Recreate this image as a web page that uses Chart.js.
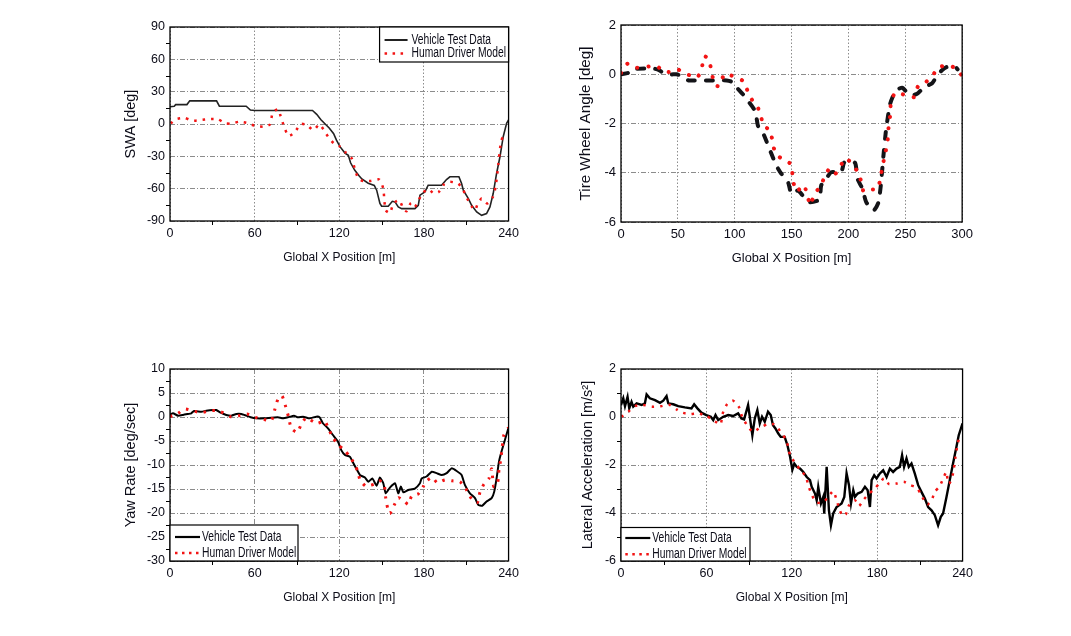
<!DOCTYPE html>
<html><head><meta charset="utf-8">
<script src="https://cdn.jsdelivr.net/npm/chart.js@4.4.1/dist/chart.umd.min.js"></script>
<style>
html,body{margin:0;padding:0;background:#fff;width:1071px;height:636px;overflow:hidden;position:relative}
canvas{position:absolute}
</style></head><body>
<canvas id="c1"></canvas><canvas id="c2"></canvas><canvas id="c3"></canvas><canvas id="c4"></canvas>
<script>
// ---------------- data ----------------
const seriesLabels = ['Vehicle Test Data', 'Human Driver Model'];

const swaTest = [[0,16],[3,16.5],[4,18],[12,18],[14,21.5],[33,21.5],[35,16.5],[54,16.5],[57,13],[60,12.5],[101,12.5],[104,9],[107,4],[110,0],[113,-4],[116,-9],[118,-15],[120.5,-21],[124,-27],[126.4,-29],[128,-36],[131,-43],[134,-48],[136,-51],[140.5,-55],[144.8,-57],[146.5,-61.4],[148.8,-73.8],[150,-76.3],[154.7,-76.3],[157.6,-71.7],[159.5,-72.3],[161.8,-77],[164.2,-78.5],[173.6,-78.5],[176,-75.4],[177.2,-66],[180.7,-63],[183,-56.8],[192.5,-56.8],[196,-51.5],[198.4,-49],[204.8,-49],[206.7,-55.2],[207.9,-61.4],[211.5,-69.2],[213.8,-75.4],[217.4,-81.6],[220.9,-84.7],[224.4,-83.1],[226.8,-77],[229.1,-64.5],[231.5,-45.9],[233.9,-30.4],[236.2,-11.8],[238.6,0.6],[240,3.7]];
const swaModel = [[0.5,0.6],[4.5,4.6],[10.4,5.6],[15.8,3.1],[21.5,3.7],[27.9,4.6],[34,4.4],[39.2,0.6],[43.5,0.3],[48.9,2.1],[54.8,0.9],[60.7,-1.9],[66.6,-2.5],[70.9,-0.3],[72.8,10.5],[76.5,13.7],[78.4,7.4],[81,-3],[84.1,-11.2],[88.6,-7.4],[92.6,0],[96.9,-0.9],[101.6,-5.6],[106,-0.3],[109,-5.6],[112.4,-12.4],[116.2,-18],[120.5,-21],[124.7,-26.7],[128.8,-31.9],[131.1,-42.2],[133.5,-50.6],[137,-53],[142.2,-52.8],[148.3,-51.5],[151.2,-59.9],[151.9,-70.1],[152.9,-80],[156,-82.6],[158.3,-73.8],[162.5,-70.7],[165.4,-78.5],[167.7,-81],[170.8,-73.3],[173.6,-77],[178.8,-64.5],[183,-60.5],[187.1,-64.5],[190.6,-63],[194.2,-56.1],[198.4,-53.7],[204.3,-55.2],[207.9,-61.4],[210.7,-69.2],[213.8,-76.3],[216.2,-80],[218,-74.5],[220.9,-69.2],[224.9,-73.8],[228.7,-68.2],[230.8,-58.4],[232.7,-38.2],[234.6,-16.5],[236.2,-11.8],[239,-11.2]];

const twaTest = [[0,0],[6,0.05],[9,0.2],[24,0.24],[30,0.22],[34,0.15],[40,-0.03],[46,0],[49,0],[52,-0.05],[56,-0.2],[60,-0.25],[75,-0.25],[84,-0.25],[93,-0.25],[97,-0.3],[101,-0.5],[107,-0.8],[112,-1.1],[118,-1.5],[120.5,-2.1],[125,-2.4],[129,-2.85],[132,-3.2],[136.5,-3.7],[141,-4.04],[145,-4.2],[147.4,-4.45],[149.7,-4.86],[152,-4.8],[155.5,-4.72],[159.9,-4.93],[163,-5.1],[166.6,-5.2],[174.5,-5.09],[176,-4.52],[180.4,-4.25],[184.8,-3.98],[193.5,-3.98],[196,-3.6],[197.9,-3.54],[205.8,-3.6],[208,-4.25],[212.4,-4.66],[215.4,-5.17],[220.3,-5.5],[223,-5.5],[226.4,-5.2],[228.5,-4.5],[230.8,-3.3],[233.2,-2.2],[236.7,-1.2],[240.2,-0.79],[244,-0.6],[247.5,-0.55],[252.5,-0.79],[256,-0.85],[260.6,-0.79],[266.5,-0.52],[270,-0.45],[273.7,-0.36],[278.1,-0.05],[282,0.15],[286.3,0.29],[293.3,0.33],[296,0.2]];
const twaModel = [[0,0.05],[5.8,0.43],[13.4,0.27],[31.2,0.33],[38.5,0.09],[46.7,0.12],[49.6,0.2],[57.5,0.02],[66.2,-0.14],[70.6,0.12],[72.9,0.73],[77,0.63],[79.9,0.05],[82.3,-0.43],[86.1,-0.48],[91,0],[96.8,-0.05],[103.3,-0.18],[108,-0.29],[111.5,-0.7],[115.8,-1.09],[120.8,-1.4],[122.6,-1.6],[125.2,-2.08],[131,-2.28],[133.4,-2.76],[135.7,-3.2],[142.1,-3.46],[149.7,-3.66],[150.9,-4.18],[153.2,-4.7],[155,-4.75],[160.8,-4.5],[163.7,-4.9],[166.6,-5.31],[170.1,-4.86],[175.4,-4.55],[178.9,-4.18],[183.3,-3.84],[188.2,-4.05],[192.9,-3.73],[197.9,-3.41],[208,-3.95],[211.6,-4.41],[213.3,-4.76],[219.2,-4.68],[225.6,-4.66],[228,-4.25],[230,-3.73],[232,-3.3],[234.4,-2.73],[235.2,-2.2],[236.7,-1.67],[237.3,-1.2],[241.2,-0.75],[252.7,-0.89],[257.7,-0.93],[261.2,-0.49],[268,-0.32],[274.3,-0.04],[278.7,0.27],[288.3,0.36],[295.6,0.2],[300,-0.07]];

const yawTest = [[0,0.5],[2.1,0.77],[5.7,0.28],[9.2,0.42],[12.8,0.63],[15.1,0.77],[17,1.25],[22.2,1.1],[25.7,1.3],[30.5,1.46],[32.8,1.46],[35.9,0.9],[39.9,0.42],[43.5,0.28],[47,0.63],[50.6,0.63],[54.1,0.28],[57.2,-0.07],[61.2,-0.28],[67.1,-0.28],[71.8,-0.14],[76.5,-0.07],[80.1,-0.28],[83.6,-0.07],[87.9,0.28],[90.7,-0.07],[94.3,0.07],[99,-0.28],[103.7,0.07],[106.1,-0.07],[108.4,-1.3],[112,-2.36],[115.5,-3.75],[119.1,-5.14],[121.4,-6.9],[124,-7.9],[127.6,-8.3],[129.9,-9.6],[134.7,-12.1],[138.2,-12.6],[140.6,-13.5],[143.4,-12.8],[146.5,-14.3],[148.8,-12.6],[151.2,-13.8],[152.9,-15.9],[155.9,-14.7],[159.5,-13.8],[161.8,-15.9],[163.7,-14.5],[165.4,-15.7],[168.9,-15.2],[173.6,-14.9],[177.2,-13.8],[178.4,-12.8],[181.9,-12.4],[185.5,-11.4],[189,-11.7],[192.6,-12.1],[196.1,-11.7],[199.6,-10.7],[203.2,-11.25],[206.7,-12.1],[209.1,-14.2],[212.6,-15.9],[216.2,-16.9],[218.5,-18.3],[221.3,-18.5],[224.4,-17.6],[228,-16.9],[229.8,-15.6],[231.5,-12.8],[233.2,-9.3],[235,-7.2],[237.4,-4.8],[240,-2.2]];
const yawModel = [[0,0.07],[5.7,0.77],[10.4,1.67],[16.3,1.25],[22.2,0.9],[28.1,1.3],[34,1.3],[39.5,0.63],[43,0.07],[48.9,0.28],[54.6,0.63],[60.5,-0.07],[66.4,-0.49],[71.8,-0.77],[74.2,1.46],[76.5,3.69],[79.4,4.4],[82,2.15],[84.1,-0.07],[86,-2.36],[90.2,-3.2],[93.1,-1.5],[96.6,-0.14],[101.6,-0.97],[104.9,-1.3],[109.6,-0.83],[112.4,-2.5],[115.5,-4.3],[119.3,-5.8],[123.5,-6.9],[127.6,-8.3],[131.1,-10],[133,-11.25],[134.7,-13.1],[138.7,-14.4],[142.5,-14.2],[144.8,-14],[148.8,-13.3],[151.9,-14.3],[152.9,-16.8],[154.3,-19],[155.9,-20.1],[159,-18.3],[161.8,-16.8],[165.8,-17.5],[168.9,-18.2],[171.3,-16.5],[176,-16],[179.5,-14.5],[181.2,-13.5],[185.9,-12.6],[189.4,-13.7],[194.9,-13.1],[200.1,-13.3],[205.5,-13.5],[209.6,-14.9],[212.6,-16.5],[215,-17.5],[218,-17.8],[219.7,-15.7],[222.5,-14],[226.1,-12.8],[228,-10.8],[229.5,-14.5],[232.2,-13.8],[233.2,-11],[234.6,-8.6],[235.5,-6.2],[236.7,-3.75],[240,-2.2]];

const latTest = [[0,0.5],[1.6,0.78],[2.8,0.45],[4.6,0.84],[5.8,0.36],[7.4,0.63],[8.6,0.43],[11,0.57],[14.5,0.5],[16.8,0.57],[18,0.94],[20.3,0.78],[23.9,0.7],[27.4,0.59],[29.7,0.68],[32,0.87],[33.2,0.57],[36.7,0.53],[40.2,0.45],[44.9,0.4],[49.5,0.36],[51.4,0.53],[53.7,0.36],[56.5,0.18],[60,0.08],[63.1,0.01],[64.8,-0.13],[66.4,0.08],[68.3,-0.13],[71.8,0.01],[75.3,0.08],[78.8,0.04],[82.3,0.15],[84.6,-0.06],[86.5,-0.1],[89.3,0.5],[90.5,0.01],[92.3,-0.76],[94,-0.06],[95.8,0.29],[97.5,-0.27],[99.1,0.01],[101,-0.2],[103.3,0.22],[105.2,0.08],[106.8,-0.34],[108.5,-0.48],[110.4,-0.68],[112.2,-0.83],[115,-0.83],[116.9,-1.17],[118.8,-1.66],[120.4,-2.2],[121.8,-1.94],[123.5,-2.08],[125.8,-2.15],[128.1,-2.29],[130.5,-2.5],[132.8,-2.63],[134,-2.91],[136.3,-3.19],[137.5,-3.47],[138.6,-2.91],[140.5,-3.6],[142.1,-3.33],[142.8,-4.02],[144.5,-2.08],[146.1,-3.89],[147.5,-4.51],[149.1,-4.02],[151.5,-3.75],[155,-3.6],[156.9,-3.33],[158.5,-2.35],[160.2,-2.84],[161.6,-3.6],[163.2,-3.05],[164.4,-3.33],[166.3,-3.19],[169.1,-3.12],[171.4,-2.91],[173.3,-3.05],[174.9,-3.75],[176.1,-2.63],[177.9,-2.43],[179.6,-2.56],[181.9,-2.35],[184.2,-2.22],[186.6,-2.5],[188.9,-2.15],[191.2,-2.29],[193.6,-2.15],[195.9,-2.08],[197.5,-1.59],[198.9,-2.08],[200.6,-1.73],[202.2,-2.08],[204.1,-1.94],[206.4,-2.35],[208.8,-2.84],[211.1,-3.12],[213.5,-3.4],[215.8,-3.75],[218.2,-3.89],[220.5,-4.09],[222.8,-4.51],[224.7,-4.16],[226.3,-4.02],[228.7,-3.33],[231,-2.63],[233.3,-1.94],[235.7,-1.24],[237.3,-0.76],[239.2,-0.41],[240,-0.27]];
const latModel = [[0.4,0.01],[5.1,0.22],[9.8,0.45],[15.6,0.5],[22.2,0.43],[28.1,0.45],[33.9,0.51],[39,0.32],[42.5,0.19],[48.4,0.12],[54.2,0.15],[60,0.04],[64.8,-0.13],[69.9,-0.31],[71.3,0.12],[74.6,0.54],[78.8,0.68],[83,0.4],[85.1,0.01],[88.6,-0.34],[92.8,-0.62],[98.2,-0.43],[102.8,-0.3],[107.5,-0.31],[110.4,-0.48],[113.4,-0.73],[116.2,-0.96],[118.8,-1.59],[122.3,-1.91],[125.8,-2.19],[129.8,-2.47],[131.6,-2.84],[133.5,-3.16],[136.8,-3.54],[141.4,-3.58],[145.2,-3.36],[149.1,-3.09],[151,-3.36],[153.1,-3.77],[155.5,-4.12],[158,-4.05],[160.2,-3.68],[164.4,-3.47],[167.2,-3.71],[170.7,-3.43],[174.4,-3.19],[178.4,-2.98],[181.9,-2.73],[184.7,-2.56],[188.4,-2.8],[193.6,-2.77],[198.7,-2.7],[203.4,-2.84],[207.6,-2.94],[210.5,-3.19],[213,-3.47],[215.4,-3.64],[218.2,-3.47],[220.5,-3.12],[224,-2.88],[226.8,-2.5],[228.7,-2.29],[229.8,-2.77],[231,-2.75],[233.3,-2.35],[235,-1.66],[236.4,-1.17],[238,-0.76]];

// tick values
const dist240Ticks = [0,60,120,180,240];
const dist240Minor = [30,90,150,210];
const dist300Ticks = [0,50,100,150,200,250,300];
const swaTicks = [-90,-60,-30,0,30,60,90];
const swaMinor = [-75,-45,-15,15,45,75];
const twaTicks = [-6,-4,-2,0,2];
const yawTicks = [-30,-25,-20,-15,-10,-5,0,5,10];
const yawMinor = [-27.5,-22.5,-17.5,-12.5,-7.5,-2.5,2.5,7.5];
const latTicks = [-6,-4,-2,0,2];
const latMinor = [-5,-3,-1,1];

const xTitle = 'Global X Position [m]';

// ---------------- styling / helpers ----------------
const FONT = "'Liberation Sans', Arial, sans-serif";
const INK = '#0c0c18';
const GRID = '#8c8c8c';
const RED = '#f21414';
const pts = a => a.map(p => ({x: p[0], y: p[1]}));

const deco = {
  id: 'deco',
  afterDatasetsDraw(chart, args, opts) {
    const {ctx, chartArea: a, scales: {x, y}} = chart;
    ctx.save();
    ctx.strokeStyle = '#000'; ctx.lineWidth = 1;
    ctx.beginPath();
    (opts.minorX || []).forEach(v => { const p = Math.round(x.getPixelForValue(v)) + 0.5; ctx.moveTo(p, a.bottom); ctx.lineTo(p, a.bottom + 4); });
    (opts.minorY || []).forEach(v => { const p = Math.round(y.getPixelForValue(v)) + 0.5; ctx.moveTo(a.left - 4, p); ctx.lineTo(a.left, p); });
    ctx.stroke();
    ctx.lineWidth = 1.3;
    ctx.strokeRect(a.left, a.top, a.right - a.left, a.bottom - a.top);
    const L = opts.legend;
    if (L) {
      const bx = L.pos === 'tr' ? a.right - L.w : a.left;
      const by = L.pos === 'tr' ? a.top : a.bottom - L.h;
      ctx.fillStyle = '#fff'; ctx.fillRect(bx, by, L.w, L.h);
      ctx.strokeStyle = '#000'; ctx.lineWidth = 1.2; ctx.strokeRect(bx, by, L.w, L.h);
      L.rows.forEach((r, i) => {
        const ds = chart.data.datasets[r.ds];
        const yy = by + L.rowY[i];
        ctx.save();
        ctx.strokeStyle = ds.borderColor; ctx.lineWidth = r.lw; ctx.setLineDash(r.dash || []);
        ctx.beginPath(); ctx.moveTo(bx + L.sx0, yy); ctx.lineTo(bx + L.sx1, yy); ctx.stroke();
        ctx.restore();
        ctx.save();
        ctx.fillStyle = INK; ctx.font = '14px ' + FONT; ctx.textBaseline = 'middle';
        ctx.translate(bx + L.tx, yy); ctx.scale(0.735, 1);
        ctx.fillText(ds.label, 0, 0);
        ctx.restore();
      });
    }
    ctx.restore();
  }
};

function makeChart(id, g, o) {
  const padL = 60, padT = 20, padR = 15, padB = 50;
  const W = g.r - g.l + padL + padR, H = g.b - g.t + padT + padB;
  const cv = document.getElementById(id);
  cv.width = W; cv.height = H;
  cv.style.left = (g.l - padL) + 'px'; cv.style.top = (g.t - padT) + 'px';
  cv.style.width = W + 'px'; cv.style.height = H + 'px';
  return new Chart(cv, {
    type: 'line',
    data: {datasets: o.datasets},
    options: {
      responsive: false, animation: false, devicePixelRatio: 1,
      layout: {autoPadding: false, padding: {left: 0, top: padT, right: padR, bottom: 0}},
      elements: {point: {radius: 0}},
      plugins: {legend: {display: false}, tooltip: {enabled: false},
        deco: {minorX: o.minorX, minorY: o.minorY, legend: o.legend}},
      scales: {
        x: {
          type: 'linear', min: o.xMin, max: o.xMax,
          afterFit: s => { s.height = padB; },
          afterBuildTicks: s => { s.ticks = o.xTicks.map(v => ({value: v})); },
          grid: {color: GRID, lineWidth: 1, drawTicks: false},
          border: {display: false, dash: o.xDash},
          ticks: {padding: 5, color: INK, font: {family: FONT, size: o.tickSize}, maxRotation: 0, autoSkip: false},
          title: {display: true, text: xTitle, color: INK, font: {family: FONT, size: o.xTitleSize}, padding: {top: 0, bottom: 6}}
        },
        y: {
          type: 'linear', min: o.yMin, max: o.yMax,
          afterFit: s => { s.width = padL; },
          afterBuildTicks: s => { s.ticks = o.yTicks.map(v => ({value: v})); },
          grid: {color: GRID, lineWidth: 1, drawTicks: false},
          border: {display: false, dash: o.yDash},
          ticks: {padding: 5, color: INK, font: {family: FONT, size: o.tickSize}, autoSkip: false},
          title: {display: true, text: o.yTitle, color: INK, font: {family: FONT, size: o.yTitleSize}, padding: {top: o.yTitlePad, bottom: 0}}
        }
      }
    },
    plugins: [deco]
  });
}

const HDASH = [5, 2, 1, 2];
const VDOT = [1.5, 2];

makeChart('c1', {l: 170, t: 27, r: 509, b: 221}, {
  xMin: 0, xMax: 240, xTicks: dist240Ticks, minorX: dist240Minor,
  yMin: -90, yMax: 90, yTicks: swaTicks, minorY: swaMinor,
  tickSize: 12.5, xTitleSize: 12, yTitleSize: 14.5,
  yTitle: 'SWA [deg]', yTitlePad: 11.8, xDash: VDOT, yDash: HDASH,
  datasets: [
    {label: seriesLabels[0], data: pts(swaTest), borderColor: '#222', borderWidth: 1.6, tension: 0, order: 2},
    {label: seriesLabels[1], data: pts(swaModel), borderColor: RED, borderWidth: 2.5, borderDash: [2.5, 6], tension: 0.2, order: 1}
  ],
  legend: {pos: 'tr', w: 129, h: 35, rowY: [13, 26.5], sx0: 5, sx1: 28, tx: 32,
    rows: [{ds: 0, lw: 2}, {ds: 1, lw: 2.5, dash: [2.5, 5.5]}]}
});

makeChart('c2', {l: 621, t: 25, r: 963, b: 222}, {
  xMin: 0, xMax: 300, xTicks: dist300Ticks, minorX: [],
  yMin: -6, yMax: 2, yTicks: twaTicks, minorY: [],
  tickSize: 13, xTitleSize: 12.8, yTitleSize: 15.2,
  yTitle: 'Tire Wheel Angle [deg]', yTitlePad: 15.7, xDash: VDOT, yDash: HDASH,
  datasets: [
    {label: seriesLabels[0], data: pts(twaTest), borderColor: '#141418', borderWidth: 4, borderDash: [7, 11], borderCapStyle: 'round', tension: 0.2, order: 2},
    {label: seriesLabels[1], data: pts(twaModel), borderColor: RED, borderWidth: 4, borderDash: [0.1, 11], borderCapStyle: 'round', tension: 0.2, order: 1}
  ]
});

makeChart('c3', {l: 170, t: 369, r: 509, b: 561}, {
  xMin: 0, xMax: 240, xTicks: dist240Ticks, minorX: dist240Minor,
  yMin: -30, yMax: 10, yTicks: yawTicks, minorY: yawMinor,
  tickSize: 12.5, xTitleSize: 12, yTitleSize: 14.5,
  yTitle: 'Yaw Rate [deg/sec]', yTitlePad: 12.3, xDash: HDASH, yDash: HDASH,
  datasets: [
    {label: seriesLabels[0], data: pts(yawTest), borderColor: '#000', borderWidth: 2, tension: 0.15, order: 2},
    {label: seriesLabels[1], data: pts(yawModel), borderColor: RED, borderWidth: 3, borderDash: [2.5, 6.5], tension: 0.2, order: 1}
  ],
  legend: {pos: 'bl', w: 128, h: 36, rowY: [12, 28], sx0: 5, sx1: 30, tx: 32,
    rows: [{ds: 0, lw: 2.2}, {ds: 1, lw: 2.5, dash: [2.5, 4.5]}]}
});

makeChart('c4', {l: 621, t: 369, r: 963, b: 561}, {
  xMin: 0, xMax: 240, xTicks: dist240Ticks, minorX: dist240Minor,
  yMin: -6, yMax: 2, yTicks: latTicks, minorY: latMinor,
  tickSize: 12.5, xTitleSize: 12, yTitleSize: 14.5,
  yTitle: 'Lateral Acceleration [m/s\u00B2]', yTitlePad: 18.3, xDash: VDOT, yDash: HDASH,
  datasets: [
    {label: seriesLabels[0], data: pts(latTest), borderColor: '#000', borderWidth: 2.4, tension: 0, order: 2},
    {label: seriesLabels[1], data: pts(latModel), borderColor: RED, borderWidth: 2.5, borderDash: [2.5, 6], tension: 0.2, order: 1}
  ],
  legend: {pos: 'bl', w: 129, h: 33.5, rowY: [10.5, 26.7], sx0: 4.3, sx1: 29.3, tx: 31.3,
    rows: [{ds: 0, lw: 2.2}, {ds: 1, lw: 2.5, dash: [2.5, 4.5]}]}
});
</script>
</body></html>
